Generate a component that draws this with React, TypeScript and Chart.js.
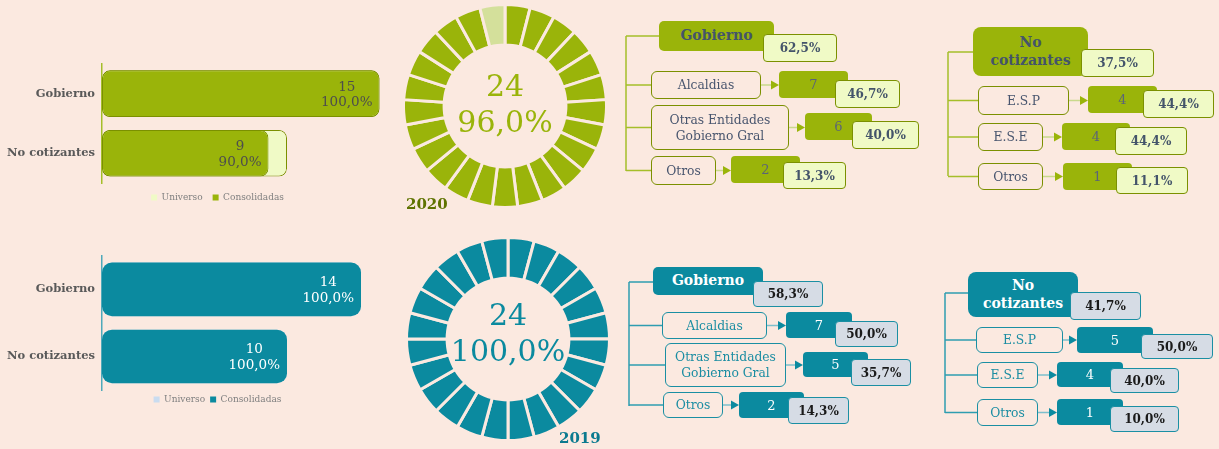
import React, { useEffect, useRef } from "react";
import { Chart, registerables } from "chart.js";
Chart.register(...registerables);

const BG = "#FBE9E0";
const FONT = "'DejaVu Serif', Georgia, serif";

// ---------- data ----------
const categorias = ["Gobierno", "No cotizantes"];
const universo2020 = [15, 10];
const consolidadas2020 = [15, 9];
const pctConsolidadas2020 = ["100,0%", "90,0%"];
const universo2019 = [14, 10];
const consolidadas2019 = [14, 10];
const pctConsolidadas2019 = ["100,0%", "100,0%"];
const leyenda = ["Universo", "Consolidadas"];

const anios = ["2020", "2019"];
const totalUniverso = [25, 24];
const totalConsolidadas = [24, 24];
const pctTotal = ["96,0%", "100,0%"];

const gobiernoSub = ["Alcaldias", "Otras Entidades\nGobierno Gral", "Otros"];
const noCotSub = ["E.S.P", "E.S.E", "Otros"];
const gobiernoShare = ["62,5%", "58,3%"];
const noCotShare = ["37,5%", "41,7%"];
const gobierno2020 = [7, 6, 2];
const gobiernoPct2020 = ["46,7%", "40,0%", "13,3%"];
const noCot2020 = [4, 4, 1];
const noCotPct2020 = ["44,4%", "44,4%", "11,1%"];
const gobierno2019 = [7, 5, 2];
const gobiernoPct2019 = ["50,0%", "35,7%", "14,3%"];
const noCot2019 = [5, 4, 1];
const noCotPct2019 = ["50,0%", "40,0%", "10,0%"];

// ---------- themes ----------
const GREEN = {
  main: "#9AB40A", light: "#F0FAC6", border: "#7B9000", bw: 1, radius: 8, barPct: 0.784,
  axis: "#A5BE2A", labelColor: "#4D4D4D", legendPad: 10, donutLight: "#D4E09B",
  headerText: "#44546A", labelText: "#48556E", labelBorder: "#7B9000", valueText: "#5B6477",
  pctFill: "#F0FAC6", pctBorder: "#7B9000", pctText: "#44546A", vline: "#A5BE2A", lineLight: "#C9D98C",
  year: "#5F7300",
};
const TEAL = {
  main: "#0B8A9F", light: "#C9DCF0", border: "#0B8A9F", bw: 0, radius: 10, barPct: 0.8,
  axis: "#4FA9BA", labelColor: "#FFFFFF", legendPad: 5, donutLight: "#9CCFD8",
  headerText: "#FFFFFF", labelText: "#1B8DA2", labelBorder: "#1A8FA3", valueText: "#FFFFFF",
  pctFill: "#D6DCE5", pctBorder: "#1A8FA3", pctText: "#1A1A1A", vline: "#2E9DB0", lineLight: "#7DBFCC",
  year: "#0B7A8F",
};

function BarChart({ universo, consolidadas, pct, theme, top, height }: any) {
  const ref = useRef<HTMLCanvasElement>(null);
  useEffect(() => {
    const labelPlugin = {
      id: "barLabels",
      afterDatasetsDraw(chart: any) {
        const meta = chart.getDatasetMeta(0);
        const ctx = chart.ctx;
        ctx.save();
        ctx.font = `13.5px ${FONT}`;
        ctx.fillStyle = theme.labelColor;
        ctx.textBaseline = "middle";
        ctx.textAlign = "center";
        meta.data.forEach((bar: any, i: number) => {
          const l1 = String(consolidadas[i]);
          const l2 = pct[i];
          const w = Math.max(ctx.measureText(l1).width, ctx.measureText(l2).width);
          const cx = bar.x - 7 - w / 2;
          ctx.fillText(l1, cx, bar.y - 6.5);
          ctx.fillText(l2, cx, bar.y + 9);
        });
        ctx.restore();
      },
    };
    const common = {
      borderColor: theme.border, borderWidth: theme.bw, borderRadius: theme.radius,
      borderSkipped: false, grouped: false, barPercentage: theme.barPct, categoryPercentage: 1,
    };
    const chart = new Chart(ref.current as HTMLCanvasElement, {
      type: "bar",
      data: {
        labels: categorias,
        datasets: [
          { label: leyenda[1], data: consolidadas, backgroundColor: theme.main, ...common } as any,
          { label: leyenda[0], data: universo, backgroundColor: theme.light, ...common } as any,
        ],
      },
      options: {
        indexAxis: "y",
        responsive: false,
        animation: false,
        layout: { padding: { top: 8, left: 0, right: 9, bottom: 0 } },
        scales: {
          x: { display: false, min: 0, max: 18 },
          y: {
            grid: { display: false, drawTicks: false },
            border: { display: true, color: theme.axis, width: 1.5 },
            ticks: { color: "#595959", font: { family: FONT, size: 11.5, weight: "bold" }, padding: 7 },
            afterFit: (s: any) => { s.width = 102; },
          },
        },
        plugins: {
          legend: {
            position: "bottom",
            reverse: true,
            labels: {
              boxWidth: 6, boxHeight: 6, padding: theme.legendPad, color: "#7F7F7F",
              font: { family: FONT, size: 9 },
              generateLabels: (c: any) =>
                (Chart.defaults.plugins.legend.labels as any).generateLabels(c).map((it: any) => ({ ...it, lineWidth: 0, strokeStyle: "rgba(0,0,0,0)" })),
            },
          },
          tooltip: { enabled: false },
        },
      } as any,
      plugins: [labelPlugin],
    });
    return () => chart.destroy();
  }, []);
  return <canvas ref={ref} width={444} height={height} style={{ position: "absolute", left: 0, top, width: 444, height }} />;
}

function DonutChart({ universo, consolidadas, pct, theme, left, top, size, off1, off2 }: any) {
  const ref = useRef<HTMLCanvasElement>(null);
  useEffect(() => {
    const segs = Array.from({ length: universo }, () => 1);
    const colors = segs.map((_, i) => (i < consolidadas ? theme.main : theme.donutLight));
    const centerText = {
      id: "centerText",
      afterDraw(chart: any) {
        const arc = chart.getDatasetMeta(0).data[0];
        const ctx = chart.ctx;
        ctx.save();
        ctx.font = `30px ${FONT}`;
        ctx.fillStyle = theme.main;
        ctx.textAlign = "center";
        ctx.textBaseline = "middle";
        ctx.fillText(String(consolidadas), arc.x, arc.y + off1);
        ctx.fillText(pct, arc.x, arc.y + off2);
        ctx.restore();
      },
    };
    const chart = new Chart(ref.current as HTMLCanvasElement, {
      type: "doughnut",
      data: { datasets: [{ data: segs, backgroundColor: colors, borderColor: BG, borderWidth: 3 }] },
      options: {
        responsive: false,
        animation: false,
        cutout: "60%",
        plugins: { legend: { display: false }, tooltip: { enabled: false } },
      } as any,
      plugins: [centerText],
    });
    return () => chart.destroy();
  }, []);
  return <canvas ref={ref} width={size} height={size} style={{ position: "absolute", left, top, width: size, height: size }} />;
}

type Box = [number, number, number, number];
interface TreeLayout {
  vx: number; vy1: number; vy2: number;
  header: Box; headerPct: Box; headerRadius: number; headerSize: number;
  rows: { label: Box; value: Box; pct: Box }[];
}

function Tree({ layout, theme, title, share, labels, values, pcts }: any) {
  const L = layout as TreeLayout;
  const boxStyle = (b: Box): React.CSSProperties => ({
    position: "absolute", left: b[0], top: b[1], width: b[2], height: b[3], boxSizing: "border-box",
    display: "flex", alignItems: "center", justifyContent: "center", textAlign: "center", whiteSpace: "pre-line",
  });
  const lines: any[] = [];
  lines.push(<line key="v" x1={L.vx} y1={L.vy1} x2={L.vx} y2={L.vy2} stroke={theme.vline} strokeWidth={1.5} />);
  lines.push(<line key="h" x1={L.vx} y1={L.vy1} x2={L.header[0]} y2={L.vy1} stroke={theme.vline} strokeWidth={1.5} />);
  L.rows.forEach((r, i) => {
    const y = r.label[1] + r.label[3] / 2;
    const x1 = r.label[0] + r.label[2];
    const x2 = r.value[0];
    lines.push(<line key={"r" + i} x1={L.vx} y1={y} x2={r.label[0]} y2={y} stroke={theme.vline} strokeWidth={1.5} />);
    lines.push(<line key={"a" + i} x1={x1} y1={y} x2={x2 - 6} y2={y} stroke={theme.lineLight} strokeWidth={1.5} />);
    lines.push(<polygon key={"p" + i} points={`${x2 - 8},${y - 4.5} ${x2},${y} ${x2 - 8},${y + 4.5}`} fill={theme.main} />);
  });
  return (
    <>
      <svg width={1219} height={449} style={{ position: "absolute", left: 0, top: 0 }}>{lines}</svg>
      <div style={{ ...boxStyle(L.header), background: theme.main, borderRadius: L.headerRadius, color: theme.headerText, fontWeight: "bold", fontSize: L.headerSize, lineHeight: "17.5px" }}>{title}</div>
      <div style={{ ...boxStyle(L.headerPct), background: theme.pctFill, border: `1.5px solid ${theme.pctBorder}`, borderRadius: 4, color: theme.pctText, fontWeight: "bold", fontSize: 12 }}>{share}</div>
      {L.rows.map((r, i) => (
        <React.Fragment key={i}>
          <div style={{ ...boxStyle(r.label), border: `1.5px solid ${theme.labelBorder}`, borderRadius: 6, color: theme.labelText, fontSize: 12.3, lineHeight: "16px" }}>{labels[i]}</div>
          <div style={{ ...boxStyle(r.value), background: theme.main, borderRadius: 4, color: theme.valueText, fontSize: 13 }}>{String(values[i])}</div>
          <div style={{ ...boxStyle(r.pct), background: theme.pctFill, border: `1.5px solid ${theme.pctBorder}`, borderRadius: 4, color: theme.pctText, fontWeight: "bold", fontSize: 12 }}>{pcts[i]}</div>
        </React.Fragment>
      ))}
    </>
  );
}

const treeGob2020: TreeLayout = {
  vx: 626, vy1: 36, vy2: 171, header: [659, 21, 115, 30], headerPct: [763, 34, 74, 28], headerRadius: 5, headerSize: 14,
  rows: [
    { label: [651, 71, 110, 28], value: [779, 71, 69, 27], pct: [835, 80, 65, 28] },
    { label: [651, 105, 138, 45], value: [805, 113, 67, 27], pct: [852, 121, 67, 28] },
    { label: [651, 156, 65, 29], value: [731, 156, 69, 27], pct: [783, 162, 63, 27] },
  ],
};
const treeNoc2020: TreeLayout = {
  vx: 948, vy1: 52, vy2: 176, header: [973, 27, 115, 49], headerPct: [1081, 49, 73, 28], headerRadius: 8, headerSize: 14,
  rows: [
    { label: [978, 86, 91, 29], value: [1088, 86, 69, 27], pct: [1143, 90, 71, 28] },
    { label: [978, 123, 65, 28], value: [1062, 123, 68, 27], pct: [1115, 127, 72, 28] },
    { label: [978, 163, 65, 27], value: [1063, 163, 69, 27], pct: [1116, 167, 72, 27] },
  ],
};
const treeGob2019: TreeLayout = {
  vx: 629, vy1: 282, vy2: 406, header: [653, 267, 110, 28], headerPct: [753, 281, 70, 26], headerRadius: 5, headerSize: 14,
  rows: [
    { label: [662, 312, 105, 27], value: [786, 312, 66, 26], pct: [835, 321, 63, 26] },
    { label: [665, 343, 121, 44], value: [803, 352, 65, 25], pct: [851, 359, 60, 27] },
    { label: [663, 392, 60, 26], value: [739, 392, 65, 26], pct: [788, 397, 61, 27] },
  ],
};
const treeNoc2019: TreeLayout = {
  vx: 945, vy1: 293, vy2: 413, header: [968, 272, 110, 45], headerPct: [1070, 292, 71, 28], headerRadius: 8, headerSize: 14,
  rows: [
    { label: [976, 327, 87, 26], value: [1077, 327, 76, 26], pct: [1141, 334, 72, 25] },
    { label: [977, 362, 61, 26], value: [1057, 362, 66, 25], pct: [1110, 368, 69, 25] },
    { label: [977, 399, 61, 27], value: [1057, 399, 66, 26], pct: [1110, 406, 69, 26] },
  ],
};

export default function App() {
  useEffect(() => {
    document.body.style.margin = "0";
    document.body.style.background = BG;
  }, []);
  return (
    <div style={{ position: "absolute", left: 0, top: 0, width: 1219, height: 449, background: BG, overflow: "hidden", fontFamily: FONT }}>
      <BarChart universo={universo2020} consolidadas={consolidadas2020} pct={pctConsolidadas2020} theme={GREEN} top={50} height={162} />
      <BarChart universo={universo2019} consolidadas={consolidadas2019} pct={pctConsolidadas2019} theme={TEAL} top={242} height={172} />
      <DonutChart universo={totalUniverso[0]} consolidadas={totalConsolidadas[0]} pct={pctTotal[0]} theme={GREEN} left={402} top={3} size={206} off1={-17.5} off2={18} />
      <DonutChart universo={totalUniverso[1]} consolidadas={totalConsolidadas[1]} pct={pctTotal[1]} theme={TEAL} left={405} top={236} size={206} off1={-22} off2={14} />
      <div style={{ position: "absolute", left: 406, top: 194, fontSize: 15, fontWeight: "bold", color: GREEN.year, lineHeight: "20px" }}>{anios[0]}</div>
      <div style={{ position: "absolute", left: 559, top: 428, fontSize: 15, fontWeight: "bold", color: TEAL.year, lineHeight: "20px" }}>{anios[1]}</div>
      <Tree layout={treeGob2020} theme={GREEN} title={categorias[0]} share={gobiernoShare[0]} labels={gobiernoSub} values={gobierno2020} pcts={gobiernoPct2020} />
      <Tree layout={treeNoc2020} theme={GREEN} title={"No\ncotizantes"} share={noCotShare[0]} labels={noCotSub} values={noCot2020} pcts={noCotPct2020} />
      <Tree layout={treeGob2019} theme={TEAL} title={categorias[0]} share={gobiernoShare[1]} labels={gobiernoSub} values={gobierno2019} pcts={gobiernoPct2019} />
      <Tree layout={treeNoc2019} theme={TEAL} title={"No\ncotizantes"} share={noCotShare[1]} labels={noCotSub} values={noCot2019} pcts={noCotPct2019} />
    </div>
  );
}
